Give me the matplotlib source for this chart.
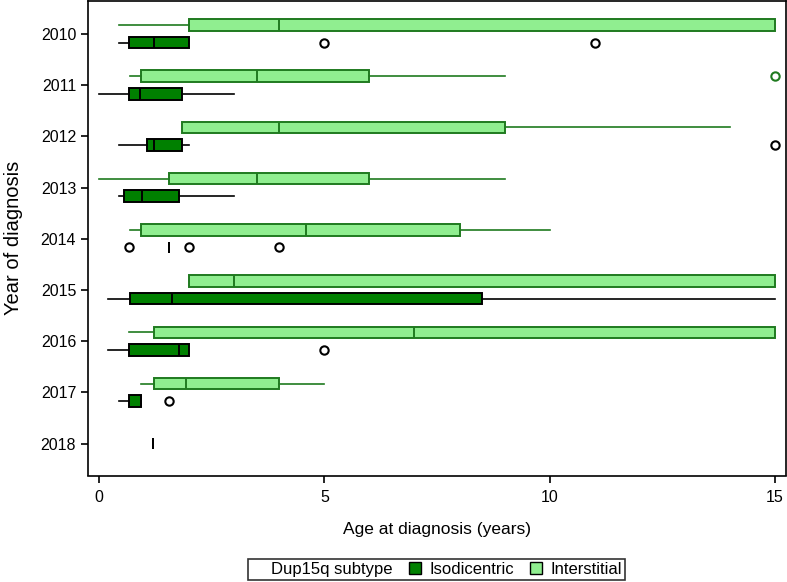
import matplotlib
matplotlib.use('Agg')
import matplotlib.pyplot as plt
from matplotlib.lines import Line2D

plt.rcParams['font.family'] = ['Liberation Sans', 'DejaVu Sans']

years = [2010, 2011, 2012, 2013, 2014, 2015, 2016, 2017, 2018]

# Interstitial subtype (light green), None = no cases that year
inter_whislo = [0.43, 0.69, 1.83, 0.0, 0.69, 2.0, 0.67, 0.93, None]
inter_q1 = [2.0, 0.92, 1.83, 1.55, 0.92, 2.0, 1.21, 1.21, None]
inter_med = [4.0, 3.5, 4.0, 3.5, 4.6, 3.0, 7.0, 1.92, None]
inter_q3 = [15.0, 6.0, 9.0, 6.0, 8.0, 15.0, 15.0, 4.0, None]
inter_whishi = [15.0, 9.0, 14.0, 9.0, 10.0, 15.0, 15.0, 5.0, None]
inter_fliers = [[], [15.0], [], [], [], [], [], [], []]

# Isodicentric subtype (dark green)
iso_whislo = [0.43, 0.0, 0.43, 0.43, 1.55, 0.19, 0.19, 0.43, 1.2]
iso_q1 = [0.67, 0.67, 1.06, 0.54, 1.55, 0.69, 0.67, 0.67, 1.2]
iso_med = [1.22, 0.91, 1.22, 0.95, 1.55, 1.61, 1.78, 0.93, 1.2]
iso_q3 = [2.0, 1.84, 1.84, 1.78, 1.55, 8.5, 2.0, 0.93, 1.2]
iso_whishi = [2.0, 3.0, 2.0, 3.0, 1.55, 15.0, 2.0, 0.93, 1.2]
iso_fliers = [[5.0, 11.0], [], [15.0], [], [0.67, 2.0, 4.0], [], [5.0], [1.55], []]

ISO_FILL = '#008000'
INT_FILL = '#90ee90'
INT_EDGE = '#1f7a1f'


def make_stats(lo, q1, med, q3, hi, fl):
    return dict(whislo=lo, q1=q1, med=med, q3=q3, whishi=hi, fliers=fl)


fig = plt.figure(figsize=(7.87, 5.82), dpi=100)
ax = fig.add_axes([88 / 787, 1 - 475.5 / 582, 698 / 787, 474.5 / 582])

int_stats, int_pos = [], []
iso_stats, iso_pos = [], []
for i, y in enumerate(years):
    has_int = inter_med[i] is not None
    if has_int:
        int_stats.append(make_stats(inter_whislo[i], inter_q1[i], inter_med[i],
                                    inter_q3[i], inter_whishi[i], inter_fliers[i]))
        int_pos.append(y - 0.175)
    iso_stats.append(make_stats(iso_whislo[i], iso_q1[i], iso_med[i],
                                iso_q3[i], iso_whishi[i], iso_fliers[i]))
    iso_pos.append(y + 0.17 if has_int else y)

ax.bxp(int_stats, positions=int_pos, widths=0.225, orientation='horizontal',
       patch_artist=True, showcaps=False, manage_ticks=False,
       boxprops=dict(facecolor=INT_FILL, edgecolor=INT_EDGE, linewidth=1.4),
       medianprops=dict(color=INT_EDGE, linewidth=1.4),
       whiskerprops=dict(color=INT_EDGE, linewidth=1.2),
       flierprops=dict(marker='o', markerfacecolor='none', markeredgecolor=INT_EDGE,
                       markersize=6, markeredgewidth=1.5))

ax.bxp(iso_stats, positions=iso_pos, widths=0.225, orientation='horizontal',
       patch_artist=True, showcaps=False, manage_ticks=False,
       boxprops=dict(facecolor=ISO_FILL, edgecolor='black', linewidth=1.4),
       medianprops=dict(color='black', linewidth=1.4),
       whiskerprops=dict(color='black', linewidth=1.2),
       flierprops=dict(marker='o', markerfacecolor='none', markeredgecolor='black',
                       markersize=6, markeredgewidth=1.5))

ax.set_xlim(-0.25, 15.25)
ax.set_ylim(2018.62, 2009.36)
ax.set_xticks([0, 5, 10, 15])
ax.set_yticks(years)
ax.tick_params(axis='both', direction='out', length=5, width=1.2, labelsize=11.5)
ax.tick_params(axis='x', pad=5.5)
ax.tick_params(axis='y', pad=3.5)
for s in ax.spines.values():
    s.set_linewidth(1.2)

ax.set_xlabel('Age at diagnosis (years)', fontsize=12.5, labelpad=12)
ax.set_ylabel('Year of diagnosis', fontsize=14.5, labelpad=13)

handles = [
    Line2D([], [], linestyle='none', marker=None),
    Line2D([], [], linestyle='none', marker='s', markersize=8,
           markerfacecolor=ISO_FILL, markeredgecolor='black', markeredgewidth=1.0),
    Line2D([], [], linestyle='none', marker='s', markersize=8,
           markerfacecolor=INT_FILL, markeredgecolor='black', markeredgewidth=1.0),
]
labels = ['Dup15q subtype', 'Isodicentric', 'Interstitial']
leg = fig.legend(handles, labels, loc='lower center', bbox_to_anchor=(436.5 / 787, 0.0),
                 ncol=3, frameon=True, fancybox=False, edgecolor='black',
                 fontsize=12, handlelength=0.7, handletextpad=0.5,
                 columnspacing=1.0, borderpad=0.2, borderaxespad=0.1)
leg.get_frame().set_linewidth(1.2)

fig.savefig('out.png', dpi=100)
